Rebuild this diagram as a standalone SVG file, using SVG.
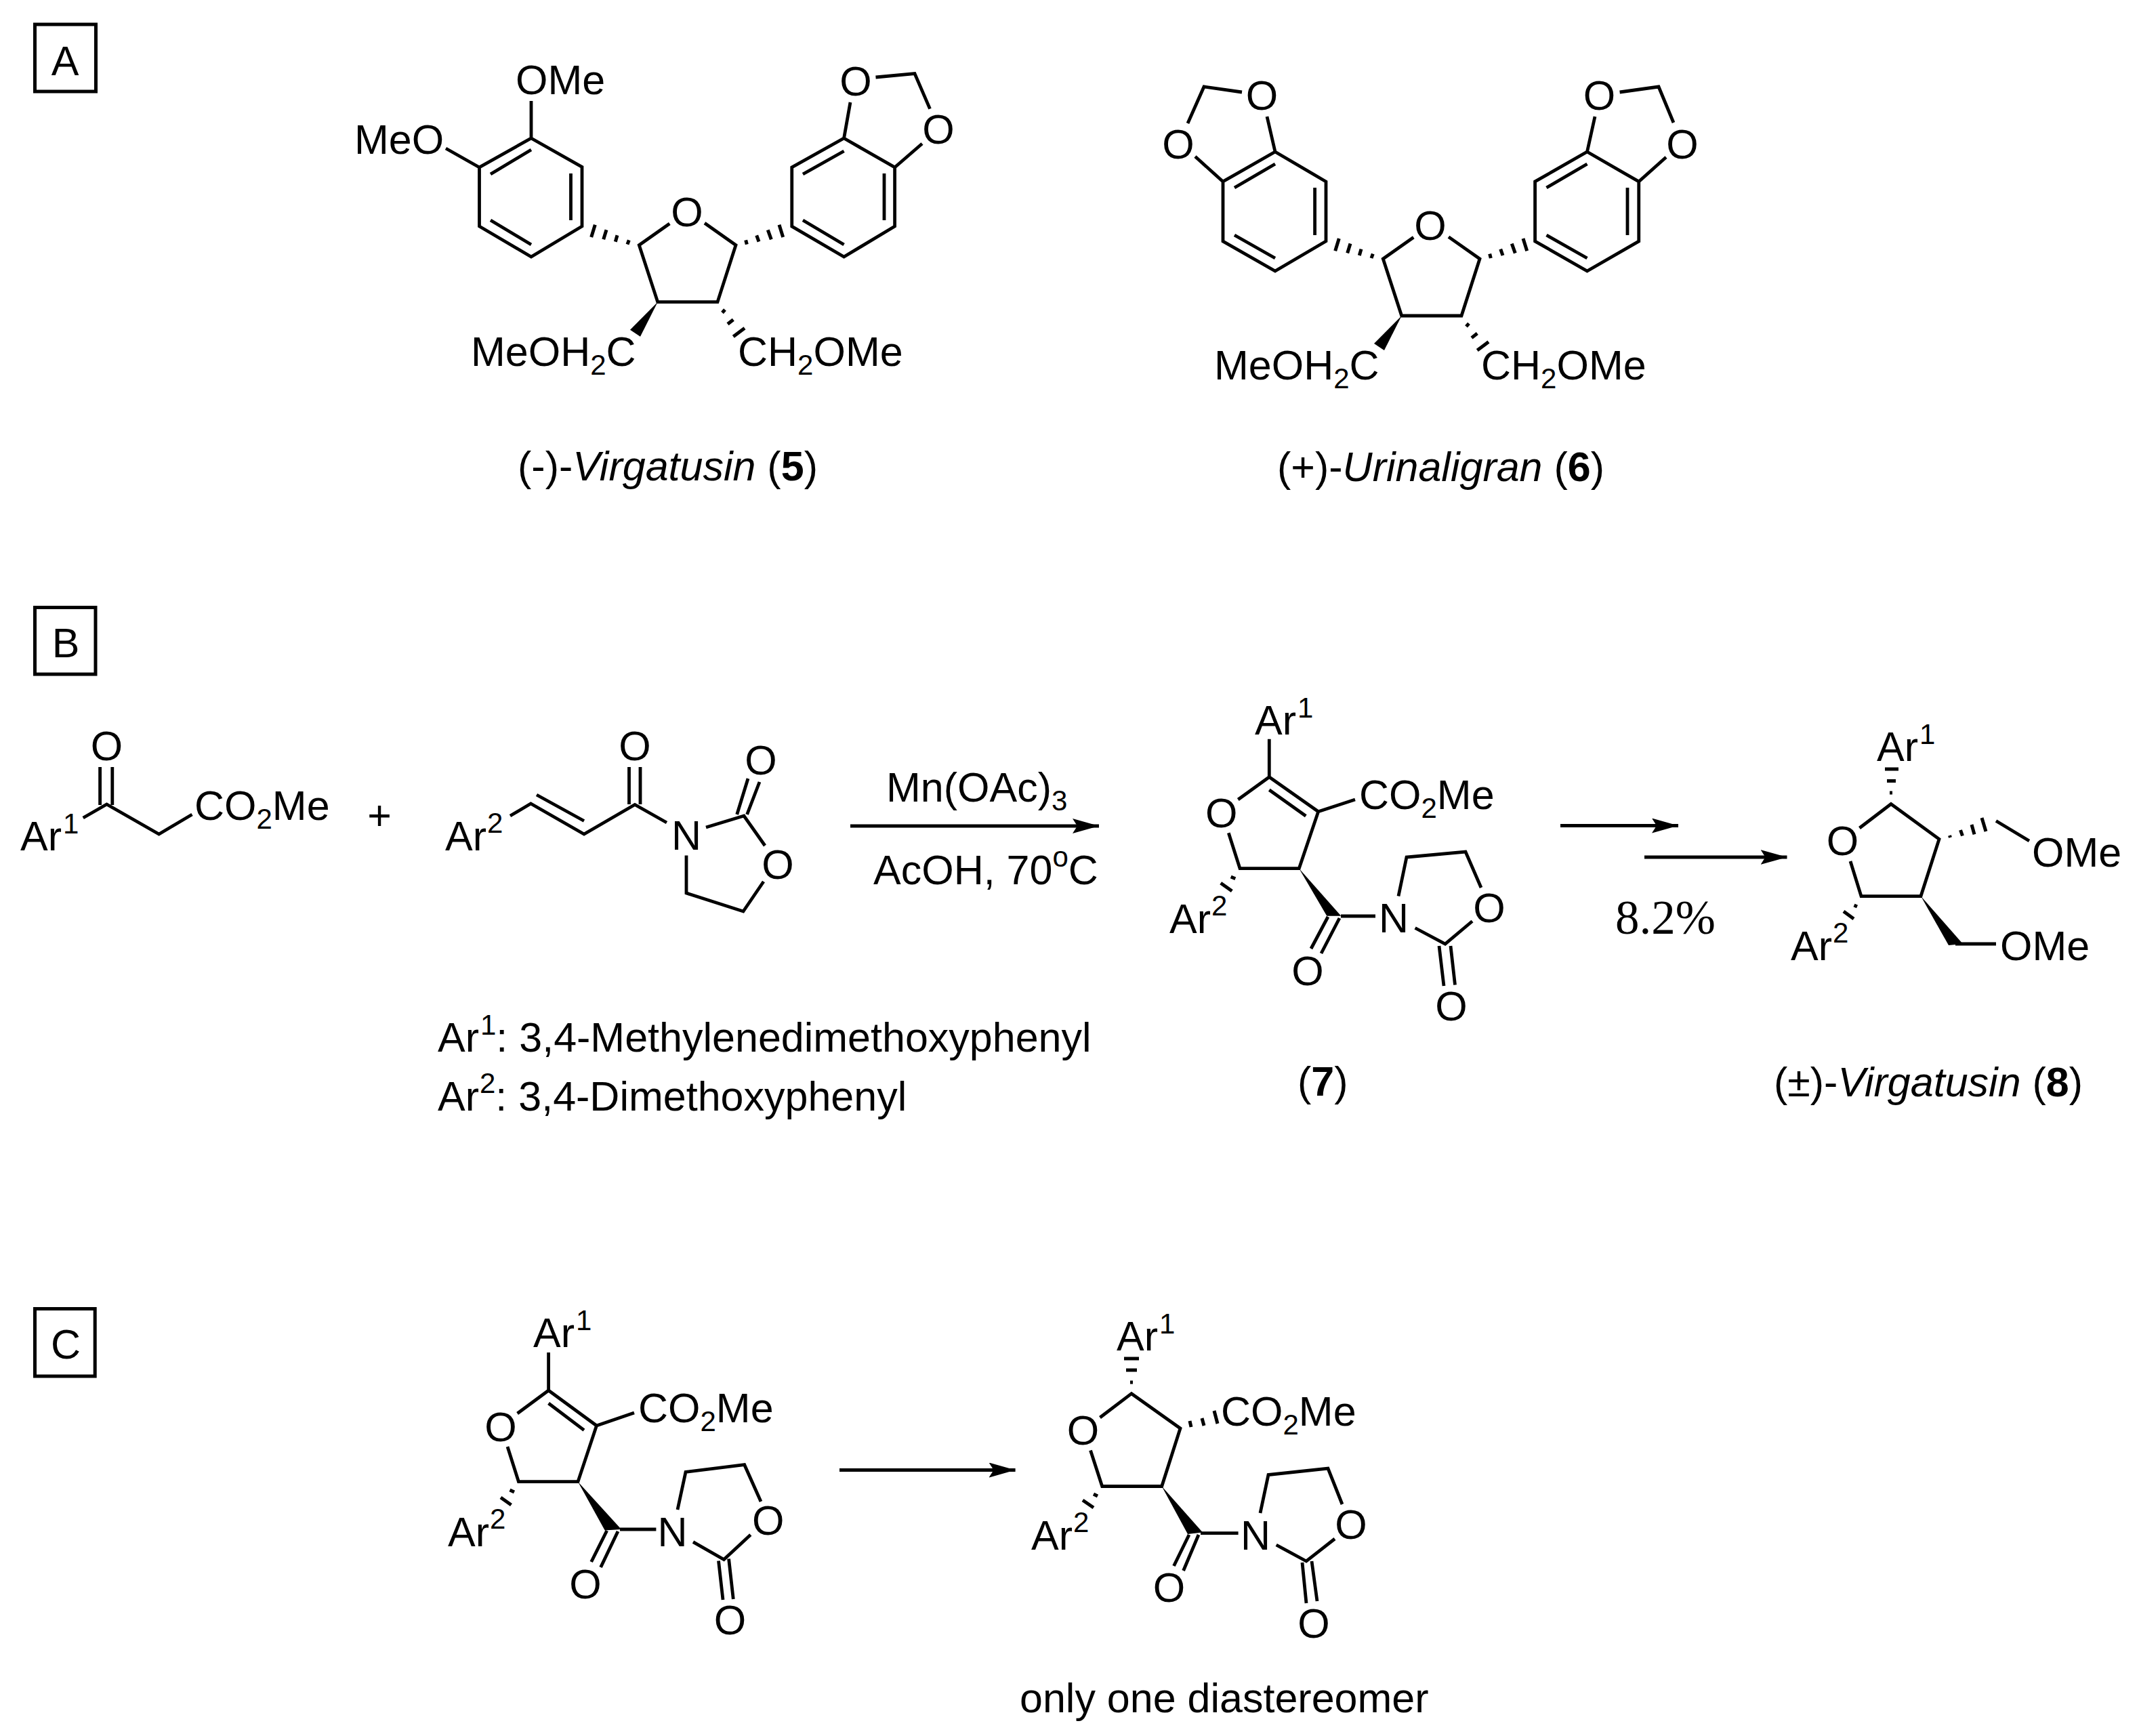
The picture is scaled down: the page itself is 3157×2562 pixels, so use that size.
<svg xmlns="http://www.w3.org/2000/svg" width="3157" height="2562" viewBox="0 0 3157 2562">
<style>
text{font-family:"Liberation Sans",Arial,sans-serif;font-size:61px;fill:#000}
.m{text-anchor:middle}
.s{font-size:42px}
.r{font-family:"Liberation Serif","Times New Roman",serif;font-size:71px}
.i{font-style:italic}
.bd{font-weight:bold}
.b{fill:none;stroke:#000;stroke-width:4.800;stroke-linejoin:miter}
.h{fill:none;stroke:#000;stroke-width:5}
.w{fill:#000;stroke:none}
.box{fill:none;stroke:#000;stroke-width:5}
.a{fill:none;stroke:#000;stroke-width:4.800}
</style>
<defs>
<marker id="ah" markerUnits="userSpaceOnUse" markerWidth="40" markerHeight="22" refX="39" refY="11" orient="auto"><path d="M39 11L0 0L7 11L0 22Z" fill="#000"/></marker>
</defs>
<rect width="3157" height="2562" fill="#fff"/>

<g id="label-A"><rect class="box" x="51.500" y="36" width="90" height="99"/><text class="m" x="96" y="110.500">A</text></g>
<g id="label-B"><rect class="box" x="51.500" y="896.500" width="89.500" height="98.500"/><text class="m" x="97" y="970">B</text></g>
<g id="label-C"><rect class="box" x="51.500" y="1931.500" width="88.700" height="99.500"/><text class="m" x="97" y="2005">C</text></g>

<g id="compound-5">
<path class="b" d="M784 204L859 246.500V334L784 379L707.500 334V247ZM784 149V204M658 219L707.500 247M842.500 256V325M724 257L784 221M724 325L784 361"/>
<path class="h" d="M878.300 331.700L872.700 350M895 339.300L890.700 353.300M911 347.300L908.300 356.700M928.300 354.300L926 360.700"/>
<path class="b" d="M988.300 330L943.300 361.700L970.700 445.700H1059L1086 361.700L1040 329.300"/>
<path class="w" d="M970.700 445.700L930 486.700L945 496.700Z"/>
<path class="h" d="M1066 461.500L1070 457M1082.300 471.700L1074 478.300M1099 484.300L1082.300 496.700M1100.700 354.300L1102.300 360.700M1116.700 347.300L1120 356.700M1133.300 339.300L1138.300 353.300M1150 331.700L1155.700 350"/>
<path class="b" d="M1245.600 204L1320.600 247V334L1245.600 379L1168.750 334V247ZM1185 257L1245.600 223M1305 256V325M1185 325L1245.600 361M1255 151L1245.600 204M1292.500 114L1350 108.600L1372.500 160.600M1361 212L1320.600 247"/>
<text x="761" y="139">OMe</text>
<text x="523" y="227">MeO</text>
<text class="m" x="1014" y="334">O</text>
<text class="m" x="1263" y="141">O</text>
<text class="m" x="1385" y="212">O</text>
<text x="695" y="539.500">MeOH<tspan class="s" dy="13">2</tspan><tspan dy="-13">C</tspan></text>
<text x="1089" y="539.500">CH<tspan class="s" dy="13">2</tspan><tspan dy="-13">OMe</tspan></text>
<text x="764" y="709">(-)-<tspan class="i">Virgatusin</tspan> (<tspan class="bd">5</tspan>)</text>
</g>

<g id="compound-6">
<path class="b" d="M1882 224L1957 268V356L1882 400L1805 356V268ZM1940.600 277V347M1822 277L1882 242M1822 347L1882 381M1882 224L1870 172M1833 136L1777 128L1753 182M1764 231L1805 268"/>
<path class="b" d="M2086.300 350.300L2041.300 382L2068.700 466H2157L2184 382L2138 349.600"/>
<path class="h" d="M1976.300 352L1970.700 370.300M1993 359.600L1988.700 373.600M2009 367.600L2006.300 377M2026.300 374.600L2024 381M2198.700 374.600L2200.300 381M2214.700 367.600L2218 377M2231.300 359.600L2236.300 373.600M2248 352L2253.700 370.300M2164 481.800L2168 477.300M2180.300 492L2172 498.600M2197 504.600L2180.300 517"/>
<path class="w" d="M2068.700 466L2028 507L2043 517Z"/>
<path class="b" d="M2342.500 224L2418.750 268V356L2342.500 400L2265.600 356V268ZM2282.500 277L2342.500 242M2402 277V347M2282.500 347L2342.500 381M2342.500 224L2354 172M2390.600 136L2448 128L2470 181M2459 232L2418.750 268"/>
<text class="m" x="1862.500" y="162">O</text>
<text class="m" x="1739" y="234">O</text>
<text class="m" x="2111" y="354">O</text>
<text class="m" x="2360.600" y="162">O</text>
<text class="m" x="2483" y="234">O</text>
<text x="1792" y="560">MeOH<tspan class="s" dy="13">2</tspan><tspan dy="-13">C</tspan></text>
<text x="2186" y="560">CH<tspan class="s" dy="13">2</tspan><tspan dy="-13">OMe</tspan></text>
<text x="1885" y="710">(+)-<tspan class="i">Urinaligran</tspan> (<tspan class="bd">6</tspan>)</text>
</g>

<g id="ketoester">
<path class="b" d="M147.600 1132V1188M165.800 1132V1188M122.700 1207L157.500 1187L234.600 1231L283.500 1202"/>
<text x="30" y="1255">Ar<tspan class="s" dx="2" dy="-25">1</tspan></text>
<text class="m" x="157.500" y="1122">O</text>
<text x="287" y="1210">CO<tspan class="s" dy="13">2</tspan><tspan dy="-13">Me</tspan></text>
</g>
<g id="plus"><text class="m" x="560" y="1224">+</text></g>
<g id="acryloyl-oxazolidinone">
<path class="b" d="M753 1204L783.400 1186L862 1231L937 1187.500L984 1214M792 1173L862 1211.500M928.500 1132V1187M945 1132V1187M1042 1221L1098 1204L1129 1248M1087.700 1202L1104 1149M1102.600 1202L1121 1154M1127 1301L1097 1345L1013 1318V1262.500"/>
<text x="657" y="1255">Ar<tspan class="s" dx="1" dy="-26">2</tspan></text>
<text class="m" x="937" y="1122">O</text>
<text class="m" x="1013" y="1254">N</text>
<text class="m" x="1123" y="1143">O</text>
<text class="m" x="1148" y="1297">O</text>
</g>
<g id="ar-legend">
<text x="646" y="1552">Ar<tspan class="s" dx="2" dy="-25">1</tspan><tspan dy="25">: 3,4-Methylenedimethoxyphenyl</tspan></text>
<text x="646" y="1639">Ar<tspan class="s" dx="1" dy="-26">2</tspan><tspan dy="26">: 3,4-Dimethoxyphenyl</tspan></text>
</g>

<g id="compound-7">
<path class="b" d="M1873.300 1090.700V1146.700L1945.700 1197.700L1917.300 1281.700H1830L1813.300 1229.300M1827.300 1180L1873.300 1146.700M1873.300 1165.700L1927.300 1204.300M1945.700 1197.700L2000 1180M1979 1352H2030M1960 1353L1935 1400M1977 1355L1950 1407M2064 1322.600L2076 1265L2163 1257L2186 1310M2173 1359.500L2133 1393L2088.600 1369.500M2124 1396L2131 1455M2141 1396L2147.500 1453.600"/>
<path class="h" d="M1816.700 1294L1823.300 1296.700M1801.700 1303.300L1818.300 1315"/>
<path class="w" d="M1917.300 1281.700L1958.300 1351.700H1979.300Z"/>
<text x="1852" y="1083.500">Ar<tspan class="s" dx="2" dy="-25">1</tspan></text>
<text class="m" x="1802.700" y="1221">O</text>
<text x="2006" y="1194">CO<tspan class="s" dy="13">2</tspan><tspan dy="-13">Me</tspan></text>
<text x="1726" y="1376.500">Ar<tspan class="s" dx="1" dy="-26">2</tspan></text>
<text class="m" x="1930" y="1454">O</text>
<text class="m" x="2057" y="1376">N</text>
<text class="m" x="2198" y="1361">O</text>
<text class="m" x="2142" y="1506">O</text>
<text x="1915" y="1617">(<tspan class="bd">7</tspan>)</text>
</g>

<g id="compound-8">
<path class="b" d="M2744.500 1222L2791 1186.600L2862 1238.400L2835 1322.600H2747L2731 1271M2886 1393H2946M2946 1211.500L2995 1241"/>
<path class="h" d="M2782 1135H2802M2785 1152.600H2798M2789 1170H2793M2877.500 1233L2878.500 1236M2893.500 1225L2896.500 1233.500M2910 1217L2914 1231.400M2925 1207L2931 1227M2736.500 1336L2741 1338M2721 1345L2736 1356"/>
<path class="w" d="M2835 1322.600L2876 1395L2897 1393Z"/>
<text x="2770" y="1123">Ar<tspan class="s" dx="2" dy="-25">1</tspan></text>
<text class="m" x="2719.600" y="1262">O</text>
<text x="2999" y="1279">OMe</text>
<text x="2643" y="1417">Ar<tspan class="s" dx="1" dy="-26">2</tspan></text>
<text x="2952" y="1417">OMe</text>
<text x="2618" y="1618">(±)-<tspan class="i">Virgatusin</tspan> (<tspan class="bd">8</tspan>)</text>
</g>

<g id="compound-c-sm">
<path class="b" d="M809.600 1996V2052L880.500 2104L853 2186.700H765.400L749 2135M763.600 2086L809.600 2052M809.600 2071L862 2110.600M880.500 2104L936 2085M915 2257H968.400M895.700 2259L872.700 2305M912 2260L886.600 2313M1000 2228L1012 2172.400L1098.700 2161.700L1123 2216M1107.800 2265L1068.400 2301.600L1023 2275.600M1060.500 2303.400L1067 2361M1075.600 2300.600L1082.300 2360"/>
<path class="h" d="M752.500 2199L759 2202M739 2210L754.500 2221"/>
<path class="w" d="M853 2186.700L892.700 2258.500L917 2257Z"/>
<text x="787" y="1988">Ar<tspan class="s" dx="2" dy="-25">1</tspan></text>
<text class="m" x="739" y="2127">O</text>
<text x="942" y="2099">CO<tspan class="s" dy="13">2</tspan><tspan dy="-13">Me</tspan></text>
<text x="661" y="2282">Ar<tspan class="s" dx="1" dy="-26">2</tspan></text>
<text class="m" x="864" y="2359">O</text>
<text class="m" x="992.600" y="2282">N</text>
<text class="m" x="1133.800" y="2265">O</text>
<text class="m" x="1077.500" y="2412">O</text>
</g>

<g id="compound-c-prod">
<path class="b" d="M1623.500 2092L1670 2056.700L1742 2108L1714.700 2193.500H1626.700L1609.500 2140.400M1772 2262.700H1827.600M1755 2265L1732.500 2311M1769 2265L1746.600 2318M1860 2233L1872 2176.500L1960 2167L1981 2220M1970 2271L1928 2304L1883.700 2280M1922 2306L1928 2366M1936 2304L1944 2363"/>
<path class="h" d="M1659 2005H1681M1662 2022H1678M1668 2040H1672M1756 2097L1758 2106M1774 2093L1777 2104M1792 2082L1797 2101M1614 2205L1620 2208M1598 2214L1614 2225"/>
<path class="w" d="M1714.700 2193.500L1753 2264L1775 2261.500Z"/>
<text x="1648" y="1993">Ar<tspan class="s" dx="2" dy="-25">1</tspan></text>
<text class="m" x="1598.600" y="2132">O</text>
<text x="1802" y="2104">CO<tspan class="s" dy="13">2</tspan><tspan dy="-13">Me</tspan></text>
<text x="1522" y="2287">Ar<tspan class="s" dx="1" dy="-26">2</tspan></text>
<text class="m" x="1725.500" y="2364">O</text>
<text class="m" x="1853" y="2287">N</text>
<text class="m" x="1994" y="2271">O</text>
<text class="m" x="1939" y="2417">O</text>
<text x="1505" y="2527">only one diastereomer</text>
</g>

<g id="conditions">
<text x="1308" y="1183">Mn(OAc)<tspan class="s" dy="13">3</tspan></text>
<text x="1289" y="1305">AcOH, 70<tspan class="s" dy="-26">o</tspan><tspan dy="26">C</tspan></text>
<text class="r" x="2384" y="1378">8.2%</text>
</g>

<g id="connectors">
<line class="a" x1="1255" y1="1219" x2="1622" y2="1219" marker-end="url(#ah)"/>
<line class="a" x1="2303" y1="1218.500" x2="2477" y2="1218.500" marker-end="url(#ah)"/>
<line class="a" x1="2427" y1="1265" x2="2637.500" y2="1265" marker-end="url(#ah)"/>
<line class="a" x1="1239" y1="2169.500" x2="1498.600" y2="2169.500" marker-end="url(#ah)"/>
</g>
</svg>
